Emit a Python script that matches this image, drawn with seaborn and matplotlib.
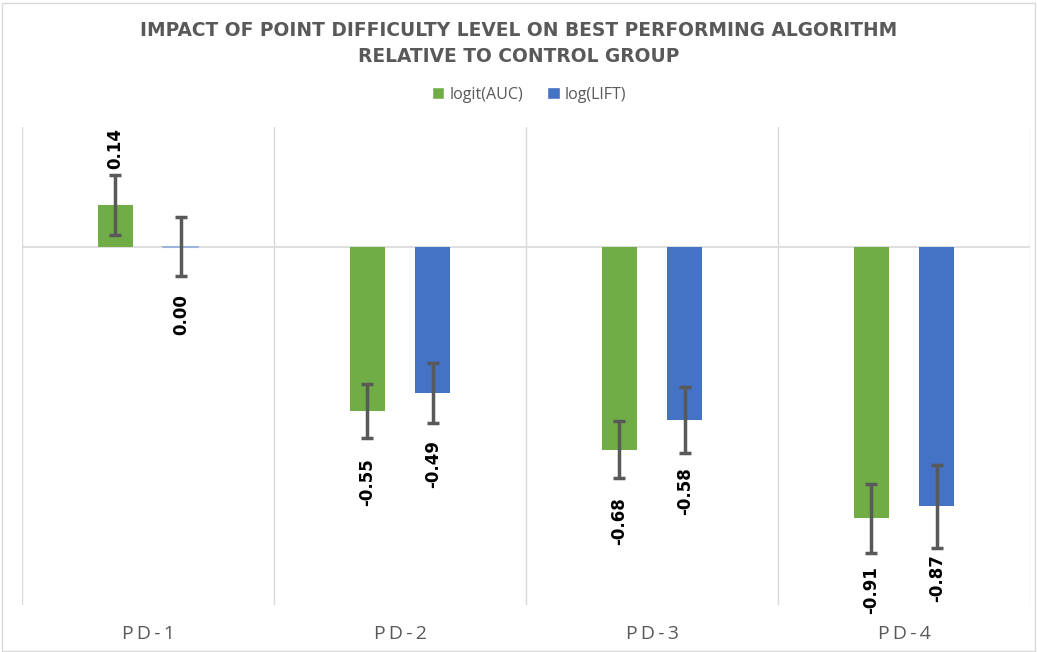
import numpy as np
import pandas as pd
import matplotlib.pyplot as plt
import seaborn as sns
from matplotlib.patches import Patch

# Data
categories = ["PD-1", "PD-2", "PD-3", "PD-4"]
series_names = ["logit(AUC)", "log(LIFT)"]
auc_values = [0.14, -0.55, -0.68, -0.91]
lift_values = [0.00, -0.49, -0.58, -0.87]
auc_errors = [0.10, 0.09, 0.095, 0.115]
lift_errors = [0.10, 0.10, 0.11, 0.14]

colors = {"logit(AUC)": "#70AD47", "log(LIFT)": "#4472C4"}
text_gray = "#595959"
grid_gray = "#D9D9D9"

df = pd.DataFrame({
    "category": categories * 2,
    "series": [series_names[0]] * 4 + [series_names[1]] * 4,
    "value": auc_values + lift_values,
    "err": auc_errors + lift_errors,
})

sns.set_theme(style="white")
plt.rcParams["font.family"] = ["Open Sans", "DejaVu Sans"]

fig = plt.figure(figsize=(10.37, 6.52), dpi=100)
ax = fig.add_axes([0.0212, 0.072, 0.9721, 0.733])

sns.barplot(data=df, x="category", y="value", hue="series", order=categories,
            hue_order=series_names, palette=colors, width=0.52, errorbar=None,
            legend=False, ax=ax, saturation=1)

# narrow the bars, keep their centres
bar_w = 0.139
bars = [p for p in ax.patches if p.get_width() > 0]
for p in bars:
    c = p.get_x() + p.get_width() / 2
    p.set_width(bar_w)
    p.set_x(c - bar_w / 2)
    p.set_linewidth(0)
    p.set_zorder(2)

# error bars and value labels
for p, (_, row) in zip(bars, df.iterrows()):
    cx = p.get_x() + p.get_width() / 2
    v = row["value"]
    if v == 0:
        # zero-height bar shows as a thin coloured line
        ax.plot([p.get_x(), p.get_x() + bar_w], [0, 0], color="#9DB3E0", lw=1.5, zorder=3)
    ax.errorbar(cx, v, yerr=row["err"], fmt="none", ecolor="#595959",
                elinewidth=2.5, capsize=4, capthick=2.5, zorder=4)
    if v > 0:
        ax.annotate(f"{v:.2f}", (cx, v), xytext=(0, 26), textcoords="offset points",
                    rotation=90, ha="center", va="bottom", fontsize=12,
                    fontweight="bold", color="black", family="DejaVu Sans")
    else:
        ax.annotate(f"{v:.2f}", (cx, v), xytext=(0, -34), textcoords="offset points",
                    rotation=90, ha="center", va="top", fontsize=12,
                    fontweight="bold", color="black", family="DejaVu Sans")

ax.axhline(0, color=grid_gray, lw=1.2, zorder=1)
for xv in np.arange(-0.5, len(categories), 1.0):
    ax.axvline(xv, color=grid_gray, lw=1, zorder=0)

ax.set_xlim(-0.5, 3.5)
ax.set_ylim(-1.2, 0.4)
ax.set_yticks([])
ax.set_xlabel("")
ax.set_ylabel("")
for s in ax.spines.values():
    s.set_visible(False)
ax.tick_params(axis="x", length=0, pad=14)
ax.set_xticks(range(len(categories)))
ax.set_xticklabels(["\u2009".join(c) for c in categories], fontsize=14, color=text_gray)

fig.text(0.5, 0.953, "IMPACT OF POINT DIFFICULTY LEVEL ON BEST PERFORMING ALGORITHM",
         ha="center", va="center", fontsize=13.4, fontweight="bold", color=text_gray,
         family="DejaVu Sans")
fig.text(0.5, 0.914, "RELATIVE TO CONTROL GROUP",
         ha="center", va="center", fontsize=13.4, fontweight="bold", color=text_gray,
         family="DejaVu Sans")

handles = [Patch(facecolor=colors[n], label=n) for n in series_names]
fig.legend(handles=handles, loc="center", bbox_to_anchor=(0.51, 0.855), ncol=2,
           frameon=False, fontsize=11.5, labelcolor=text_gray, handlelength=0.8,
           handleheight=0.8, handletextpad=0.3, columnspacing=1.5)

fig.patches.append(plt.Rectangle((0.002, 0.002), 0.996, 0.994, transform=fig.transFigure,
                                 fill=False, edgecolor=grid_gray, lw=1))

fig.savefig("out.png", dpi=100)
